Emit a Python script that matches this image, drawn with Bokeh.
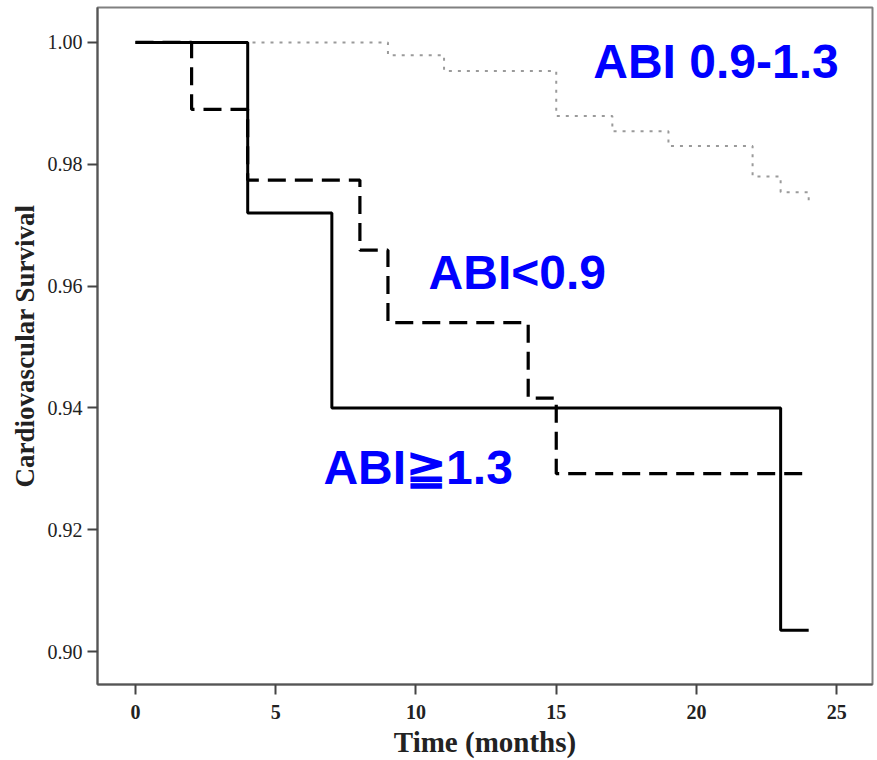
from bokeh.plotting import figure
from bokeh.models import Range1d, Label, FixedTicker, PrintfTickFormatter
from bokeh.embed import file_html
from bokeh.resources import INLINE

# ---- data ----
month_ticks = [0, 5, 10, 15, 20, 25]
survival_ticks = [0.90, 0.92, 0.94, 0.96, 0.98, 1.00]

# ABI >= 1.3 (solid)
t_high = [0, 4, 7, 23, 24]
s_high = [1.000, 0.972, 0.940, 0.9035, 0.9035]

# ABI < 0.9 (dashed)
t_low = [0, 2, 4, 8, 9, 14, 15, 24]
s_low = [1.000, 0.9890, 0.9774, 0.9659, 0.9540, 0.9416, 0.9292, 0.9292]

# ABI 0.9-1.3 (dotted)
t_norm = [0, 9, 11, 15, 17, 19, 22, 23, 24]
s_norm = [1.000, 0.9979, 0.9953, 0.9879, 0.9854, 0.9830, 0.9780, 0.9754, 0.9736]

group_labels = ["ABI 0.9-1.3", "ABI<0.9", "ABI\u22671.3"]

# ---- figure ----
p = figure(width=877, height=760, output_backend="svg", toolbar_location=None,
           x_range=Range1d(-1.355, 26.275), y_range=Range1d(0.8946, 1.00573),
           min_border_left=97, min_border_right=5, min_border_top=7,
           min_border_bottom=74)
p.background_fill_color = "white"
p.border_fill_color = "white"
p.grid.visible = False
p.outline_line_color = "#808080"
p.outline_line_width = 2

p.step(t_norm, s_norm, mode="after", line_color="#9a9a9a", line_width=2,
       line_dash="3 6")
p.step(t_low, s_low, mode="after", line_color="black", line_width=3.2,
       line_dash="18 9")
p.step(t_high, s_high, mode="after", line_color="black", line_width=3)

for ax in (p.xaxis[0], p.yaxis[0]):
    ax.axis_line_color = "#555555"
    ax.axis_line_width = 2
    ax.major_tick_line_color = "#444444"
    ax.major_tick_line_width = 2
    ax.major_tick_out = 10
    ax.major_tick_in = 0
    ax.minor_tick_out = 0
    ax.minor_tick_in = 0
    ax.major_label_text_font = "Liberation Serif"
    ax.major_label_text_color = "#222222"
    ax.axis_label_text_font = "Liberation Serif"
    ax.axis_label_text_font_style = "bold"
    ax.axis_label_text_color = "#222222"

p.xaxis.major_label_text_font_size = "20px"
p.xaxis.major_label_text_font_style = "bold"
p.yaxis.major_label_text_font_size = "20px"
p.xaxis.axis_label_text_font_size = "29px"
p.yaxis.axis_label_text_font_size = "27px"

p.xaxis.ticker = FixedTicker(ticks=month_ticks)
p.yaxis.ticker = FixedTicker(ticks=survival_ticks)
p.yaxis.formatter = PrintfTickFormatter(format="%.2f")
p.xaxis.axis_label = "Time (months)"
p.yaxis.axis_label = "Cardiovascular Survival"
p.xaxis.major_label_standoff = 10
p.yaxis.major_label_standoff = 5
p.xaxis.axis_label_standoff = 4
p.yaxis.axis_label_standoff = 5

label_style = dict(text_font="Liberation Sans", text_font_style="bold",
                   text_font_size="48px", text_color="#0000ff",
                   text_baseline="alphabetic", text_align="left")
p.add_layout(Label(x=16.32, y=0.99689, text=group_labels[0], **label_style))
p.add_layout(Label(x=10.45, y=0.96230, text=group_labels[1], **label_style))
p.add_layout(Label(x=6.70, y=0.93018, text=group_labels[2], **label_style))

open("out.html", "w").write(file_html(p, INLINE))
